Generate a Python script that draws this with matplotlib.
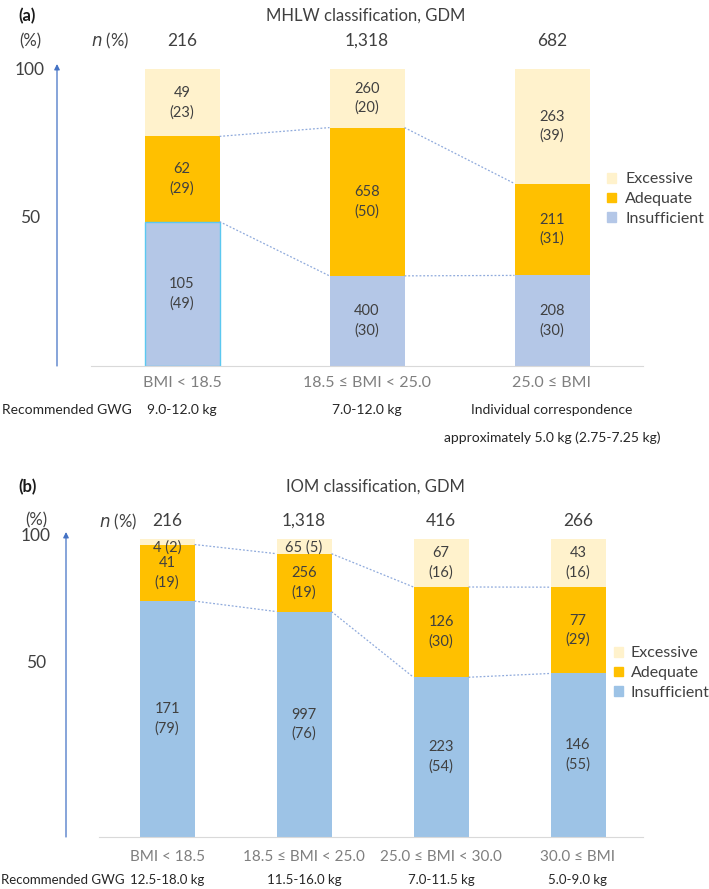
import matplotlib.pyplot as plt
from matplotlib.patches import Patch

plt.rcParams['font.family'] = ['Lato', 'DejaVu Sans']

# panel (a) MHLW
cats_a = ['BMI < 18.5', '18.5 ≤ BMI < 25.0', '25.0 ≤ BMI']
gwg_a = ['9.0-12.0 kg', '7.0-12.0 kg', 'Individual correspondence']
gwg_a2 = ['', '', 'approximately 5.0 kg (2.75-7.25 kg)']
n_a = ['216', '1,318', '682']
ins_a = [105, 400, 208]
ade_a = [62, 658, 211]
exc_a = [49, 260, 263]
ins_pct_a = [49, 30, 30]
ade_pct_a = [29, 50, 31]
exc_pct_a = [23, 20, 39]

# panel (b) IOM
cats_b = ['BMI < 18.5', '18.5 ≤ BMI < 25.0', '25.0 ≤ BMI < 30.0', '30.0 ≤ BMI']
gwg_b = ['12.5-18.0 kg', '11.5-16.0 kg', '7.0-11.5 kg', '5.0-9.0 kg']
n_b = ['216', '1,318', '416', '266']
ins_b = [171, 997, 223, 146]
ade_b = [41, 256, 126, 77]
exc_b = [4, 65, 67, 43]
ins_pct_b = [79, 76, 54, 55]
ade_pct_b = [19, 19, 30, 29]
exc_pct_b = [2, 5, 16, 16]

C_EXC = '#FFF2CC'
C_ADE = '#FFC000'
C_INS_A = '#B4C7E7'
C_INS_B = '#9DC3E6'
TXT = '#404040'
GRAY = '#7f7f7f'

W, H = 709, 889
fig = plt.figure(figsize=(W / 100, H / 100), dpi=100)


def fx(px):
    return px / W


def fy(py):
    return 1 - py / H


def panel(ax, ins, ade, exc, ins_p, ade_p, exc_p, width, c_ins, inline_small):
    x = list(range(len(ins)))
    tot = [a + b + c for a, b, c in zip(ins, ade, exc)]
    f_ins = [a / t * 100 for a, t in zip(ins, tot)]
    f_ade = [a / t * 100 for a, t in zip(ade, tot)]
    f_exc = [a / t * 100 for a, t in zip(exc, tot)]
    ax.bar(x, f_ins, width, color=c_ins)
    ax.bar(x, f_ade, width, bottom=f_ins, color=C_ADE)
    bot2 = [a + b for a, b in zip(f_ins, f_ade)]
    ax.bar(x, f_exc, width, bottom=bot2, color=C_EXC)
    for i in x:
        segs = [(f_ins[i], 0, ins[i], ins_p[i]),
                (f_ade[i], f_ins[i], ade[i], ade_p[i]),
                (f_exc[i], bot2[i], exc[i], exc_p[i])]
        for h, b, n, p in segs:
            if h < inline_small:
                ax.text(i, b + h - 0.3, f'{n} ({p})', ha='center', va='top',
                        fontsize=10.5, color=TXT)
            else:
                ax.text(i, b + h / 2, f'{n}\n({p})', ha='center', va='center',
                        fontsize=10.5, color=TXT, linespacing=1.45)
    # dotted connectors
    for i in x[:-1]:
        for arr in (f_ins, bot2):
            ax.plot([i + width / 2, i + 1 - width / 2], [arr[i], arr[i + 1]],
                    ls=(0, (1.5, 1.5)), color='#8FAADC', lw=0.9)
    ax.set_ylim(0, 100)
    for s in ['top', 'right', 'left']:
        ax.spines[s].set_visible(False)
    ax.spines['bottom'].set_color('#d9d9d9')
    ax.set_xticks([])
    ax.set_yticks([])
    ax.patch.set_alpha(0)


# ---------- panel (a)
ax_a = fig.add_axes([fx(91), fy(366), fx(643 - 91), (366 - 69) / H])
wa = 75 / 185
panel(ax_a, ins_a, ade_a, exc_a, ins_pct_a, ade_pct_a, exc_pct_a, wa, C_INS_A, 0)
ax_a.bar(0, ins_a[0] / (ins_a[0] + ade_a[0] + exc_a[0]) * 100, wa,
         color='none', edgecolor='#5BC8F0', lw=1)
ax_a.set_xlim((91 - 182) / 185, (643 - 182) / 185)
tr = ax_a.get_xaxis_transform()
for i, c in enumerate(cats_a):
    ax_a.text(i, -17 / 297, c, transform=tr, ha='center', va='center', fontsize=11.5,
              color=GRAY, clip_on=False)
    ax_a.text(i, -44 / 297, gwg_a[i], transform=tr, ha='center', va='center', fontsize=10,
              color='#262626', clip_on=False)
    ax_a.text(i, -72 / 297, gwg_a2[i], transform=tr, ha='center', va='center', fontsize=10,
              color='#262626', clip_on=False)
    ax_a.text(i, 1 + 28 / 297, n_a[i], transform=tr, ha='center', va='center',
              fontsize=12.5, color=TXT, clip_on=False)

fig.text(fx(18), fy(16), '(a)', fontsize=12, fontweight='bold', va='center', color='#1a1a1a')
fig.text(fx(366), fy(16), 'MHLW classification, GDM', fontsize=12, ha='center',
         va='center', color=TXT)
fig.text(fx(30), fy(41), '(%)', fontsize=12, ha='center', va='center', color=TXT)
fig.text(fx(110), fy(41), r'$\it{n}$ (%)', fontsize=12, ha='center', va='center', color=TXT)
fig.text(fx(30), fy(70), '100', fontsize=12.5, ha='center', va='center', color=TXT)
fig.text(fx(30), fy(218), '50', fontsize=12.5, ha='center', va='center', color=TXT)
fig.text(fx(2), fy(410), 'Recommended GWG', fontsize=10, va='center', color='#262626')
fig.add_artist(plt.Annotation('', xy=(fx(57), fy(64)), xytext=(fx(57), fy(366)),
                              xycoords='figure fraction', textcoords='figure fraction',
                              arrowprops=dict(arrowstyle='-|>', color='#4472C4', lw=0.9,
                                              mutation_scale=8, shrinkA=0, shrinkB=0)))
handles = [Patch(color=C_EXC, label='Excessive'), Patch(color=C_ADE, label='Adequate'),
           Patch(color=C_INS_A, label='Insufficient')]
fig.legend(handles=handles, loc='center left', bbox_to_anchor=(fx(607), fy(199)),
           frameon=False, fontsize=11.5, handlelength=0.55, handleheight=0.55,
           handletextpad=0.6, labelspacing=0.35, labelcolor=TXT,
           borderpad=0, borderaxespad=0)

# ---------- panel (b)
ax_b = fig.add_axes([fx(99), fy(837), fx(643 - 99), (837 - 539) / H])
wb = 55 / 137
panel(ax_b, ins_b, ade_b, exc_b, ins_pct_b, ade_pct_b, exc_pct_b, wb, C_INS_B, 8)
ax_b.set_xlim((99 - 167) / 137, (643 - 167) / 137)
trb = ax_b.get_xaxis_transform()
for i, c in enumerate(cats_b):
    ax_b.text(i, -20 / 298, c, transform=trb, ha='center', va='center', fontsize=11,
              color=GRAY, clip_on=False)
    ax_b.text(i, -43 / 298, gwg_b[i], transform=trb, ha='center', va='center',
              fontsize=9.5, color='#262626', clip_on=False)
    ax_b.text(i, 1 + 18 / 298, n_b[i], transform=trb, ha='center', va='center',
              fontsize=12.5, color=TXT, clip_on=False)

fig.text(fx(18), fy(487), '(b)', fontsize=12, fontweight='bold', va='center', color='#1a1a1a')
fig.text(fx(375), fy(487), 'IOM classification, GDM', fontsize=12, ha='center',
         va='center', color=TXT)
fig.text(fx(36), fy(520), '(%)', fontsize=12, ha='center', va='center', color=TXT)
fig.text(fx(118), fy(522), r'$\it{n}$ (%)', fontsize=12, ha='center', va='center', color=TXT)
fig.text(fx(36), fy(536), '100', fontsize=12.5, ha='center', va='center', color=TXT)
fig.text(fx(36), fy(663), '50', fontsize=12.5, ha='center', va='center', color=TXT)
fig.text(fx(1), fy(880), 'Recommended GWG', fontsize=9.5, va='center', color='#262626')
fig.add_artist(plt.Annotation('', xy=(fx(66), fy(532)), xytext=(fx(66), fy(837)),
                              xycoords='figure fraction', textcoords='figure fraction',
                              arrowprops=dict(arrowstyle='-|>', color='#4472C4', lw=0.9,
                                              mutation_scale=8, shrinkA=0, shrinkB=0)))
handles = [Patch(color=C_EXC, label='Excessive'), Patch(color=C_ADE, label='Adequate'),
           Patch(color=C_INS_B, label='Insufficient')]
fig.legend(handles=handles, loc='center left', bbox_to_anchor=(fx(614), fy(673)),
           frameon=False, fontsize=11.5, handlelength=0.55, handleheight=0.55,
           handletextpad=0.5, labelspacing=0.35, labelcolor=TXT,
           borderpad=0, borderaxespad=0)

fig.savefig('out.png', dpi=100)
